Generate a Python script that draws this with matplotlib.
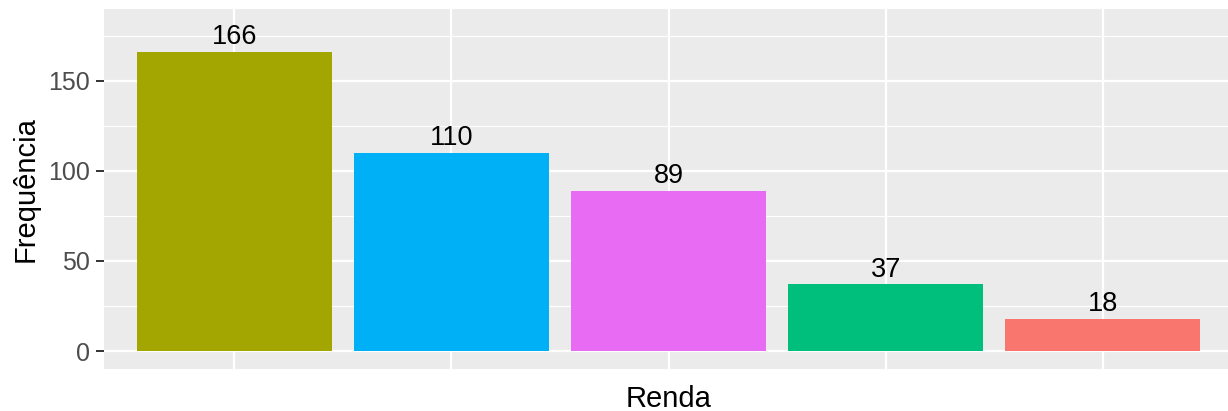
import matplotlib.pyplot as plt

plt.rcParams['font.family'] = ['Liberation Sans', 'DejaVu Sans']

categories = ['A', 'B', 'C', 'D', 'E']
freq = [166, 110, 89, 37, 18]
colors = ['#A3A500', '#00B0F6', '#E76BF3', '#00BF7D', '#F8766D']

fig = plt.figure(figsize=(12.28, 4.11), dpi=100)
ax = fig.add_axes([104/1228, 1 - 369/411, (1233 - 104)/1228, (369 - 9)/411])
ax.set_facecolor('#EBEBEB')

pos = range(1, len(freq) + 1)
ax.bar(pos, freq, width=0.9, color=colors, zorder=3)
for p, v in zip(pos, freq):
    ax.text(p, v + 1.0, str(v), ha='center', va='bottom', fontsize=19.5, color='black', zorder=4)

ax.set_xlim(0.4, 5.6)
ax.set_ylim(-9.9, 189.7)
ax.set_yticks([0, 50, 100, 150])
ax.set_yticks([25, 75, 125, 175], minor=True)
ax.set_xticks(list(pos))
ax.set_xticklabels([])
ax.grid(True, which='major', color='white', linewidth=1.6, zorder=0)
ax.grid(True, which='minor', axis='y', color='white', linewidth=0.8, zorder=0)
ax.tick_params(axis='x', length=0)
ax.tick_params(axis='y', which='major', length=6, width=1.4, color='#333333', labelsize=18, labelcolor='#4D4D4D', pad=4)
ax.tick_params(axis='y', which='minor', length=0)
for s in ax.spines.values():
    s.set_visible(False)

ax.set_xlabel('Renda', fontsize=21, labelpad=8)
ax.set_ylabel('Frequência', fontsize=21, labelpad=6)

fig.savefig('out.png', dpi=100)
